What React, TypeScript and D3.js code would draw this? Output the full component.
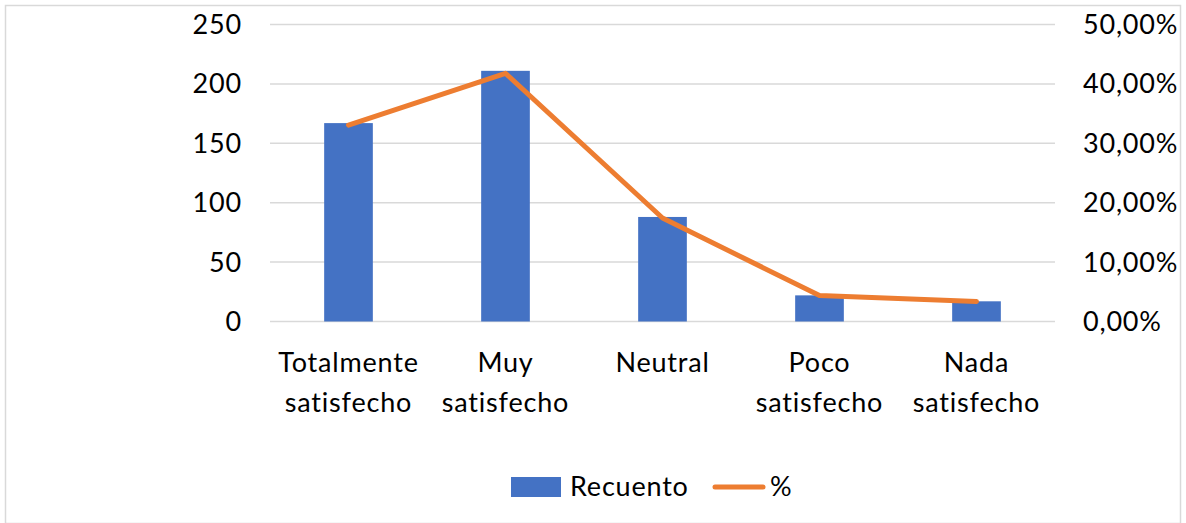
import React from 'react';
import * as d3 from 'd3';

// Satisfaction survey: counts (left axis) and share in % (right axis)
const categories: string[][] = [
  ['Totalmente', 'satisfecho'],
  ['Muy', 'satisfecho'],
  ['Neutral'],
  ['Poco', 'satisfecho'],
  ['Nada', 'satisfecho'],
];
const recuento: number[] = [167, 211, 88, 22, 17];
const porcentaje: number[] = [33.07, 41.78, 17.43, 4.36, 3.37];
const leftTicks: number[] = [0, 50, 100, 150, 200, 250];
const rightTicks: number[] = [0, 10, 20, 30, 40, 50];

const W = 1186;
const H = 523;
const margin = { top: 24.5, right: 131, bottom: 201.5, left: 270 };
const FONT = 'Lato, "Open Sans", sans-serif';
const FS = 27;
const LS = 0.8;

const App: React.FC = () => {
  const innerW = W - margin.left - margin.right;
  const innerH = H - margin.top - margin.bottom;

  const x = d3.scaleBand<number>()
    .domain(d3.range(categories.length))
    .range([0, innerW])
    .padding(0);
  const yLeft = d3.scaleLinear().domain([0, 250]).range([innerH, 0]);
  const yRight = d3.scaleLinear().domain([0, 50]).range([innerH, 0]);

  const barW = x.bandwidth() * 0.31;
  const cx = (i: number) => (x(i) ?? 0) + x.bandwidth() / 2;

  const line = d3.line<number>()
    .x((_, i) => cx(i))
    .y((d) => yRight(d));

  const fmtPct = (v: number) => `${v.toFixed(2).replace('.', ',')}%`;

  return (
    <div style={{ position: 'absolute', left: 0, top: 0 }}>
      <svg width={W} height={H} style={{ display: 'block', background: '#fff' }}>
        <rect x={5.5} y={5.5} width={W - 11} height={H - 5} fill="#fff" stroke="#d9d9d9" strokeWidth={1.5} />
        <g transform={`translate(${margin.left},${margin.top})`}>
          {leftTicks.map((t) => (
            <line key={`g${t}`} x1={0} x2={innerW} y1={yLeft(t)} y2={yLeft(t)} stroke="#d9d9d9" strokeWidth={1.5} />
          ))}
          {recuento.map((v, i) => (
            <rect key={`b${i}`} x={cx(i) - barW / 2} y={yLeft(v)} width={barW} height={innerH - yLeft(v)} fill="#4472C4" />
          ))}
          <path d={line(porcentaje) ?? ''} fill="none" stroke="#ED7D31" strokeWidth={5} strokeLinejoin="round" strokeLinecap="round" />
          {leftTicks.map((t) => (
            <text key={`l${t}`} x={-28} y={yLeft(t)} dy="0.35em" textAnchor="end" fontFamily={FONT} fontSize={FS} letterSpacing={LS} fill="#000">{t}</text>
          ))}
          {rightTicks.map((t) => (
            <text key={`r${t}`} x={innerW + 28} y={yRight(t)} dy="0.35em" textAnchor="start" fontFamily={FONT} fontSize={FS} letterSpacing={LS} fill="#000">{fmtPct(t)}</text>
          ))}
          {categories.map((lines, i) => (
            <text key={`c${i}`} textAnchor="middle" fontFamily={FONT} fontSize={FS} letterSpacing={LS} fill="#000">
              {lines.map((s, j) => (
                <tspan key={j} x={cx(i)} y={innerH + 41.5 + j * 40} dy="0.35em">{s}</tspan>
              ))}
            </text>
          ))}
        </g>
        <g transform="translate(511,487)">
          <rect x={0} y={-10} width={50} height={20} fill="#4472C4" />
          <text x={59} y={0} dy="0.35em" fontFamily={FONT} fontSize={FS} letterSpacing={LS} fill="#000">Recuento</text>
          <line x1={204} x2={252} y1={0} y2={0} stroke="#ED7D31" strokeWidth={5} strokeLinecap="round" />
          <text x={259} y={0} dy="0.35em" fontFamily={FONT} fontSize={FS} letterSpacing={LS} fill="#000">%</text>
        </g>
      </svg>
    </div>
  );
};

export default App;
